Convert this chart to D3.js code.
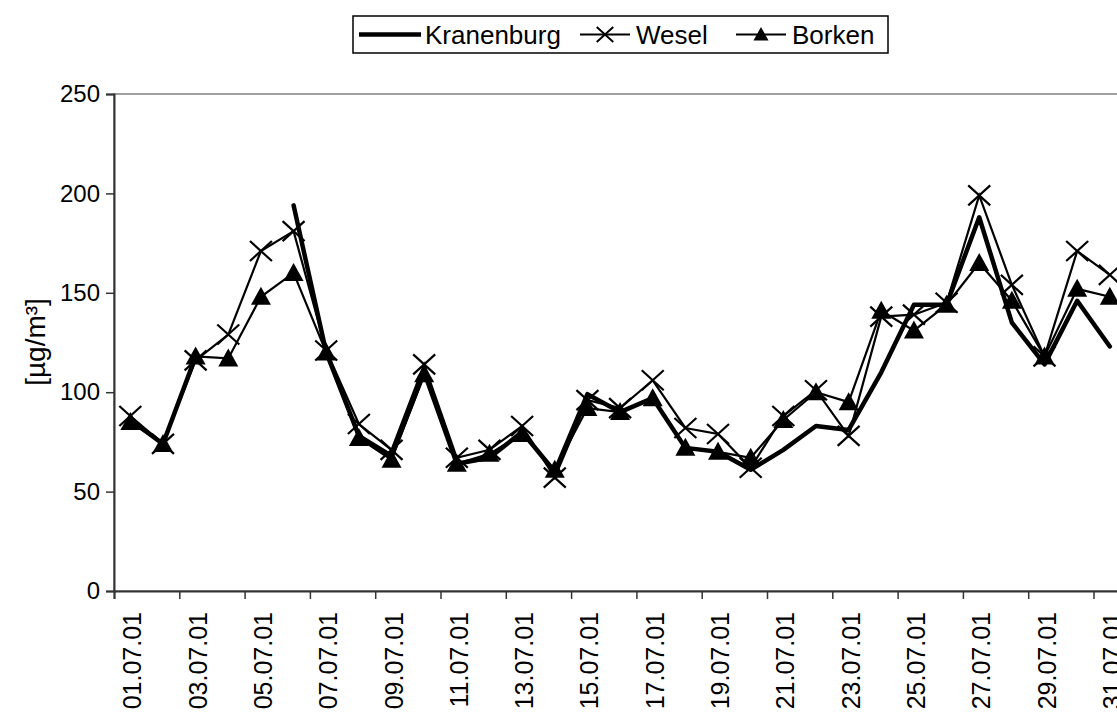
<!DOCTYPE html>
<html>
<head>
<meta charset="utf-8">
<script src="https://cdn.jsdelivr.net/npm/d3@7"></script>
<style>
  body { margin: 0; background: #fff; }
  text { font-family: "Liberation Sans", Arial, sans-serif; fill: #000; }
</style>
</head>
<body>
<div id="chart"></div>
<script>
// ozone daily values, july 2001

var dates = ["01.07.01","02.07.01","03.07.01","04.07.01","05.07.01","06.07.01","07.07.01","08.07.01",
  "09.07.01","10.07.01","11.07.01","12.07.01","13.07.01","14.07.01","15.07.01","16.07.01",
  "17.07.01","18.07.01","19.07.01","20.07.01","21.07.01","22.07.01","23.07.01","24.07.01",
  "25.07.01","26.07.01","27.07.01","28.07.01","29.07.01","30.07.01","31.07.01"];

var kranenburg = [86,74,118,null,null,194,120,78,68,110,64,67,80,60,99,90,
  97,72,70,61,71,83,81,110,144,144,188,135,114,146,123];
var wesel = [88,74,116,129,171,181,121,84,71,114,67,71,83,57,96,92,
  106,82,79,62,88,101,78,138,139,145,199,154,118,171,159];
var borken = [85,74,118,117,148,160,120,77,66,109,64,69,79,61,92,90,
  97,72,70,67,86,100,95,141,131,144,165,146,118,152,148];

var yTicks = [0,50,100,150,200,250];
var seriesNames = ["Kranenburg","Wesel","Borken"];

var W = 1117, H = 713;
var m = {left:114, top:94, bottom:591};
var step = 32.65;
var plotRight = m.left + step*dates.length;

var svg = d3.select("#chart").append("svg")
    .attr("width",W)
    .attr("height",H);
svg.append("rect").attr("width",W).attr("height",H).attr("fill","#fff");

var x = d3.scaleBand()
    .domain(dates)
    .range([m.left,plotRight]);
var xb = d3.scaleLinear()
    .domain([0,dates.length])
    .range([m.left,plotRight]);
var y = d3.scaleLinear()
    .domain([0,250])
    .range([m.bottom,m.top]);
var cx = d => x(d) + x.bandwidth()/2;

//plot frame
svg.append("rect")
    .attr("x",m.left).attr("y",m.top)
    .attr("width",plotRight-m.left).attr("height",m.bottom-m.top)
    .attr("fill","none").attr("stroke","#808080").attr("stroke-width",1.5);

//y axis
var yAxis = svg.append("g")
    .attr("transform","translate(" + m.left + ",0)")
    .call(d3.axisLeft(y).tickValues(yTicks).tickSize(8).tickPadding(6));
yAxis.select(".domain").attr("stroke","#333").attr("stroke-width",2);
yAxis.selectAll(".tick line").attr("stroke","#333").attr("stroke-width",1.5);
yAxis.selectAll(".tick text")
    .style("font-size","24px")
    .style("font-family","Liberation Sans, Arial, sans-serif")
    .attr("fill","#000");

//x axis, ticks between every second day
var xAxis = svg.append("g")
    .attr("transform","translate(0," + m.bottom + ")")
    .call(d3.axisBottom(xb).tickValues(d3.range(0,dates.length,2)).tickSize(8).tickFormat(""));
xAxis.select(".domain").attr("stroke","#333").attr("stroke-width",2);
xAxis.selectAll(".tick line").attr("stroke","#333").attr("stroke-width",1.5);

svg.append("g")
    .selectAll("text")
    .data(dates.filter((d,i) => i % 2 == 0))
    .enter()
    .append("text")
    .attr("transform", d => "translate(" + (cx(d)+2) + "," + 612 + ") rotate(-90)")
    .attr("dy","0.36em")
    .style("text-anchor","end")
    .style("font-size","25px")
    .text(d => d);

svg.append("text")
    .attr("transform","translate(35," + 342 + ") rotate(-90)")
    .attr("dy","0.35em")
    .style("text-anchor","middle")
    .style("font-size","28px")
    .text("[µg/m³]");

//lines
var line = d3.line()
    .defined(d => d.v != null)
    .x(d => cx(d.d))
    .y(d => y(d.v));

function toPts(arr){
    return arr.map((v,i) => ({d:dates[i], v:v}));
}

svg.append("path")
    .datum(toPts(kranenburg))
    .attr("d",line)
    .attr("fill","none").attr("stroke","#000").attr("stroke-width",4.5)
    .attr("stroke-linejoin","round").attr("stroke-linecap","round");

svg.append("path")
    .datum(toPts(wesel))
    .attr("d",line)
    .attr("fill","none").attr("stroke","#000").attr("stroke-width",2.2);

var crossPath = "M-11,-10L11,10M-11,10L11,-10";
svg.append("g")
    .selectAll("path")
    .data(toPts(wesel))
    .enter()
    .append("path")
    .attr("transform", d => "translate(" + cx(d.d) + "," + y(d.v) + ")")
    .attr("d",crossPath)
    .attr("stroke","#000").attr("stroke-width",2.2);

svg.append("path")
    .datum(toPts(borken))
    .attr("d",line)
    .attr("fill","none").attr("stroke","#000").attr("stroke-width",2.2);

var triPath = "M0,-10L10,8L-10,8Z";
svg.append("g")
    .selectAll("path")
    .data(toPts(borken))
    .enter()
    .append("path")
    .attr("transform", d => "translate(" + cx(d.d) + "," + y(d.v) + ")")
    .attr("d",triPath)
    .attr("fill","#000");

//legend
var lg = svg.append("g");
lg.append("rect")
    .attr("x",353).attr("y",16).attr("width",535).attr("height",37)
    .attr("fill","#fff").attr("stroke","#000").attr("stroke-width",1.5);
var ly = 34.5;
var items = [
    {name:seriesNames[0], x0:359, x1:421, w:4.5, mark:null, tx:425},
    {name:seriesNames[1], x0:580, x1:630, w:2, mark:crossPath, tx:636},
    {name:seriesNames[2], x0:736, x1:786, w:2, mark:triPath, tx:792}
];
items.forEach(function(it){
    lg.append("line")
        .attr("x1",it.x0).attr("x2",it.x1).attr("y1",ly).attr("y2",ly)
        .attr("stroke","#000").attr("stroke-width",it.w);
    if(it.mark){
        var mk = lg.append("path")
            .attr("transform","translate(" + (it.x0+it.x1)/2 + "," + ly + ") scale(0.75)")
            .attr("d",it.mark);
        if(it.mark == crossPath) mk.attr("stroke","#000").attr("stroke-width",2.6);
        else mk.attr("fill","#000");
    }
    lg.append("text")
        .attr("x",it.tx).attr("y",ly)
        .attr("dy","0.36em")
        .style("font-size","26px")
        .text(it.name);
});
</script>
</body>
</html>
